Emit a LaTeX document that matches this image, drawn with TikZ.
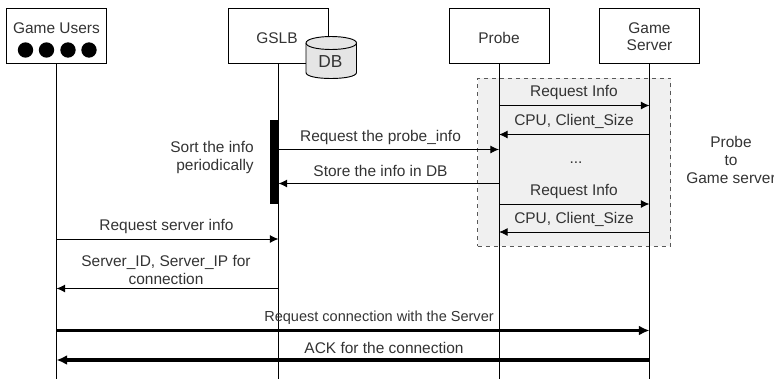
\documentclass[tikz,border=0pt]{standalone}
\usepackage{fontspec}
\setmainfont{Liberation Sans}
\usetikzlibrary{arrows.meta}
\tikzset{
  actor/.style={draw=black,fill=white,line width=0.7pt,minimum width=75pt,minimum height=41.25pt,inner sep=0pt,align=center},
  life/.style={draw=black,line width=0.7pt},
  msg/.style={draw=black,line width=0.7pt,-{Latex[length=6.5pt,width=6pt]}},
  bigmsg/.style={draw=black,line width=2.6pt,-{Latex[length=8pt,width=7.5pt]}},
  lbl/.style={inner sep=0pt,align=center,font=\fontsize{11.6pt}{13.2pt}\selectfont,text=black!80},
  dot/.style={circle,fill=black,inner sep=0pt,minimum size=11.5pt},
  panel/.style={draw=black!65,dashed,fill=black!6,line width=0.7pt,minimum width=144.75pt,minimum height=126pt,inner sep=0pt},
  dbshape/.style={draw=black,fill=black!10,line width=0.7pt}
}
\begin{document}
\begin{tikzpicture}[x=0.75pt,y=-0.75pt]
\useasboundingbox (0,0) rectangle (774,379);
\node[panel] (shade) at (574,162) {};
\node[actor] (users) at (56.5,36) {};
\node[actor] (gslb) at (278.5,36) {};
\node[actor] (probe) at (499,36) {};
\node[actor] (server) at (649.5,36) {};
\node[lbl] (usersT) at (56.5,28.5) {Game Users};
\node[lbl] (gslbT) at (277,38) {GSLB};
\node[lbl] (probeT) at (499,38) {Probe};
\node[lbl] (serverT) at (649.5,36.5) {Game\\Server};
\node[dot] (d1) at (25.5,50) {};
\node[dot] (d2) at (46.5,50) {};
\node[dot] (d3) at (68,50) {};
\node[dot] (d4) at (89,50) {};
\coordinate (uEnd) at (56.5,379);
\coordinate (gEnd) at (278.5,379);
\coordinate (pEnd) at (499,379);
\coordinate (sEnd) at (649.5,379);
\draw[life] (users.south) -- (uEnd);
\draw[life] (gslb.south) -- (gEnd);
\draw[life] (probe.south) -- (pEnd);
\draw[life] (server.south) -- (sEnd);
% DB cylinder
\draw[dbshape] (306,43) -- (306,72.5) .. controls (306,76.5) and (318,78.5) .. (331,78.5) .. controls (344,78.5) and (356.5,76.5) .. (356.5,72.5) -- (356.5,43);
\draw[dbshape] (306,43) .. controls (306,39) and (318,36.5) .. (331,36.5) .. controls (344,36.5) and (356.5,39) .. (356.5,43) .. controls (356.5,47) and (344,49.5) .. (331,49.5) .. controls (318,49.5) and (306,47) .. (306,43) -- cycle;
\node[lbl,font=\fontsize{13pt}{14pt}\selectfont] (dbT) at (330.5,61.5) {DB};
% Activation
\node[fill=black,minimum width=5.6pt,minimum height=63pt,inner sep=0pt] (act) at (274.2,162) {};
% Coordinates
\foreach \n/\y in {a/105.5,b/134.5,c/149.5,d/183.5,e/204,f/232,g/239,h/288.5,i/330.5,j/360}{
  \coordinate (u\n) at (56.5,\y);
  \coordinate (g\n) at (278.5,\y);
  \coordinate (p\n) at (499,\y);
  \coordinate (s\n) at (649.5,\y);
}
\draw[msg] (pa) -- (sa);
\draw[msg] (sb) -- (pb);
\draw[msg] (gc) -- (pc);
\draw[msg] (pd) -- (gd);
\draw[msg] (pe) -- (se);
\draw[msg] (sf) -- (pf);
\draw[msg] (ug) -- (gg);
\draw[msg] (gh) -- (uh);
\draw[bigmsg] (ui) -- (si);
\draw[bigmsg] (sj) -- (uj);
\node[lbl] (l1) at (574,93) {Request Info};
\node[lbl] (l2) at (574,121.5) {CPU, Client\_Size};
\node[lbl] (l3) at (380.5,137.5) {Request the probe\_info};
\node[lbl] (l4) at (380.5,170.5) {Store the info in DB};
\node[lbl] (l5) at (576,163) {...};
\node[lbl] (l6) at (574,191.5) {Request Info};
\node[lbl] (l7) at (574,219.5) {CPU, Client\_Size};
\node[lbl] (l8) at (166.5,226.5) {Request server info};
\node[lbl] (l9) at (166,270) {Server\_ID, Server\_IP for\\connection};
\node[lbl,font=\fontsize{10.9pt}{13pt}\selectfont] (l10) at (379,317.5) {Request connection with the Server};
\node[lbl] (l11) at (384,347.5) {ACK for the connection};
\node[lbl,align=right,anchor=east] (l12) at (254,157.5) {Sort the info\\periodically};
\node[lbl] (l13) at (731,160) {Probe\\to\\Game server};
\end{tikzpicture}
\end{document}
